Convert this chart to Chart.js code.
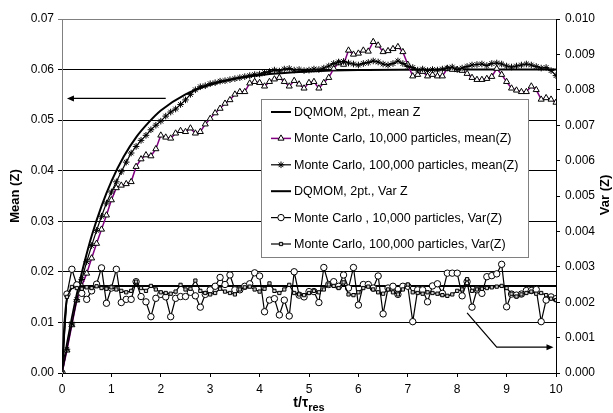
<!DOCTYPE html>
<html lang="en">
<head>
  <meta charset="UTF-8">
  <title>Mean and Var of Z</title>
  <script src="https://cdn.jsdelivr.net/npm/chart.js"></script>
  <style>
    body { margin: 0; padding: 0; background: #fff; }
    #wrap { position: relative; width: 613px; height: 413px; }
  </style>
</head>
<body>
  <div id="wrap"><canvas id="chart" width="613" height="413"></canvas></div>
  <script>
    // sample times of the Monte Carlo runs
    const tMC = [
      0, 0.1, 0.2, 0.3, 0.4, 0.5, 0.6, 0.7, 0.8, 0.9,
      1, 1.1, 1.2, 1.3, 1.4, 1.5, 1.6, 1.7, 1.8, 1.9,
      2, 2.1, 2.2, 2.3, 2.4, 2.5, 2.6, 2.7, 2.8, 2.9,
      3, 3.1, 3.2, 3.3, 3.4, 3.5, 3.6, 3.7, 3.8, 3.9,
      4, 4.1, 4.2, 4.3, 4.4, 4.5, 4.6, 4.7, 4.8, 4.9,
      5, 5.1, 5.2, 5.3, 5.4, 5.5, 5.6, 5.7, 5.8, 5.9,
      6, 6.1, 6.2, 6.3, 6.4, 6.5, 6.6, 6.7, 6.8, 6.9,
      7, 7.1, 7.2, 7.3, 7.4, 7.5, 7.6, 7.7, 7.8, 7.9,
      8, 8.1, 8.2, 8.3, 8.4, 8.5, 8.6, 8.7, 8.8, 8.9,
      9, 9.1, 9.2, 9.3, 9.4, 9.5, 9.6, 9.7, 9.8, 9.9,
      10
    ];

    const mc10kMean = [
      0, 0.0045, 0.0095, 0.0144, 0.0172, 0.0197, 0.0227, 0.0256, 0.0284, 0.0312,
      0.0342, 0.0366, 0.0371, 0.0374, 0.0378, 0.0408, 0.0423, 0.0431, 0.0429, 0.0443,
      0.0470, 0.0466, 0.0464, 0.0474, 0.0479, 0.0477, 0.0484, 0.0474, 0.0477, 0.0492,
      0.0503, 0.0514, 0.0523, 0.0533, 0.0540, 0.0551, 0.0556, 0.0556, 0.0573, 0.0576,
      0.0574, 0.0567, 0.0576, 0.0581, 0.0584, 0.0576, 0.0567, 0.0578, 0.0571, 0.0563,
      0.0574, 0.0576, 0.0563, 0.0574, 0.0584, 0.0602, 0.0613, 0.0610, 0.0638, 0.0630,
      0.0632, 0.0638, 0.0636, 0.0655, 0.0648, 0.0635, 0.0637, 0.0641, 0.0645, 0.0635,
      0.0610, 0.0587, 0.0590, 0.0596, 0.0587, 0.0590, 0.0587, 0.0587, 0.0602, 0.0600,
      0.0600, 0.0598, 0.0592, 0.0584, 0.0580, 0.0580, 0.0582, 0.0586, 0.0602, 0.0590,
      0.0576, 0.0563, 0.0559, 0.0556, 0.0556, 0.0567, 0.0560, 0.0541, 0.0544, 0.0541,
      0.0535
    ];

    const mc100kMean = [
      0, 0.0047, 0.0097, 0.0145, 0.0185, 0.0220, 0.0252, 0.0282, 0.0310, 0.0336,
      0.0358, 0.0378, 0.0398, 0.0417, 0.0435, 0.0448, 0.0460, 0.0470, 0.0481, 0.0490,
      0.0498, 0.0508, 0.0516, 0.0522, 0.0531, 0.0540, 0.0551, 0.0560, 0.0566, 0.0568,
      0.0572, 0.0574, 0.0577, 0.0578, 0.0580, 0.0582, 0.0584, 0.0586, 0.0588, 0.0590,
      0.0591, 0.0594, 0.0596, 0.0599, 0.0597, 0.0601, 0.0602, 0.0599, 0.0600, 0.0598,
      0.0599, 0.0601, 0.0600, 0.0603, 0.0607, 0.0612, 0.0615, 0.0616, 0.0613, 0.0611,
      0.0609, 0.0612, 0.0614, 0.0617, 0.0615, 0.0611, 0.0609, 0.0612, 0.0617, 0.0612,
      0.0606, 0.0604, 0.0599, 0.0601, 0.0598, 0.0600, 0.0599, 0.0601, 0.0603, 0.0605,
      0.0600, 0.0603, 0.0606, 0.0609, 0.0610, 0.0611, 0.0608, 0.0612, 0.0613, 0.0611,
      0.0607, 0.0605, 0.0607, 0.0609, 0.0611, 0.0609, 0.0606, 0.0603, 0.0604, 0.0598,
      0.0588
    ];

    const mc10kVar = [
      0, 0.00223, 0.00293, 0.00249, 0.00225, 0.00208, 0.00232, 0.00251, 0.00297, 0.00197,
      0.00240, 0.00293, 0.00199, 0.00208, 0.00208, 0.00258, 0.00216, 0.00201, 0.00159, 0.00211,
      0.00222, 0.00215, 0.00159, 0.00211, 0.00216, 0.00216, 0.00228, 0.00218, 0.00186, 0.00222,
      0.00235, 0.00245, 0.00270, 0.00250, 0.00277, 0.00235, 0.00235, 0.00245, 0.00252, 0.00283,
      0.00274, 0.00173, 0.00206, 0.00210, 0.00164, 0.00206, 0.00161, 0.00286, 0.00220, 0.00215,
      0.00230, 0.00230, 0.00199, 0.00298, 0.00250, 0.00258, 0.00245, 0.00277, 0.00240, 0.00298,
      0.00192, 0.00250, 0.00250, 0.00240, 0.00274, 0.00167, 0.00240, 0.00245, 0.00222, 0.00245,
      0.00245, 0.00145, 0.00235, 0.00235, 0.00201, 0.00246, 0.00252, 0.00225, 0.00282, 0.00282,
      0.00282, 0.00218, 0.00258, 0.00186, 0.00235, 0.00225, 0.00272, 0.00275, 0.00280, 0.00307,
      0.00187, 0.00223, 0.00220, 0.00223, 0.00233, 0.00233, 0.00236, 0.00145, 0.00206, 0.00215,
      0.00210
    ];

    const mc100kVar = [
      0, 0.00215, 0.00243, 0.00240, 0.00238, 0.00242, 0.00240, 0.00245, 0.00240, 0.00238,
      0.00242, 0.00236, 0.00232, 0.00228, 0.00232, 0.00258, 0.00240, 0.00232, 0.00246, 0.00236,
      0.00228, 0.00226, 0.00224, 0.00230, 0.00249, 0.00236, 0.00238, 0.00261, 0.00232, 0.00226,
      0.00222, 0.00226, 0.00238, 0.00230, 0.00226, 0.00222, 0.00236, 0.00242, 0.00244, 0.00236,
      0.00230, 0.00238, 0.00253, 0.00232, 0.00226, 0.00236, 0.00249, 0.00226, 0.00222, 0.00220,
      0.00226, 0.00232, 0.00228, 0.00236, 0.00250, 0.00246, 0.00240, 0.00256, 0.00222, 0.00220,
      0.00228, 0.00240, 0.00244, 0.00236, 0.00228, 0.00224, 0.00236, 0.00228, 0.00222, 0.00236,
      0.00250, 0.00228, 0.00226, 0.00224, 0.00228, 0.00226, 0.00224, 0.00220, 0.00218, 0.00222,
      0.00232, 0.00236, 0.00265, 0.00232, 0.00236, 0.00238, 0.00240, 0.00242, 0.00244, 0.00246,
      0.00240, 0.00224, 0.00216, 0.00222, 0.00226, 0.00230, 0.00224, 0.00226, 0.00220, 0.00210,
      0.00206
    ];

    // DQMOM curves (smooth)
    const dqMeanTime = [0, 0.1, 0.2, 0.3, 0.4, 0.5, 0.6, 0.8, 1, 1.25, 1.5, 1.75, 2, 2.5, 3, 3.5, 4, 5, 6, 8, 10];
    const dqMean = [0, 0.0057, 0.0109, 0.0156, 0.0198, 0.0236, 0.0271, 0.0330, 0.0379, 0.0428, 0.0466, 0.0495, 0.0519, 0.0551, 0.0570, 0.0582, 0.0589, 0.0596, 0.0599, 0.0600, 0.0600];
    const dqVarTime = [0, 0.05, 0.1, 0.15, 0.2, 0.3, 0.5, 1, 10];
    const dqVar = [0, 0.0014, 0.0021, 0.0023, 0.0024, 0.00245, 0.00246, 0.00246, 0.00246];

    const seriesNames = [
      'DQMOM, 2pt., mean Z',
      'Monte Carlo, 10,000 particles, mean(Z)',
      'Monte Carlo, 100,000 particles, mean(Z)',
      'DQMOM, 2pt., Var Z',
      'Monte Carlo , 10,000 particles, Var(Z)',
      'Monte Carlo, 100,000 particles, Var(Z)'
    ];

    const xTicks = [0, 1, 2, 3, 4, 5, 6, 7, 8, 9, 10];
    const meanTicks = [0, 0.01, 0.02, 0.03, 0.04, 0.05, 0.06, 0.07];
    const varTicks = [0, 0.001, 0.002, 0.003, 0.004, 0.005, 0.006, 0.007, 0.008, 0.009, 0.010];

    const FONT = "'Liberation Sans', Arial, sans-serif";

    function pts(xs, ys) { return xs.map((x, i) => ({ x: x, y: ys[i] })); }

    const datasets = [
      { label: seriesNames[0], data: pts(dqMeanTime, dqMean), yAxisID: 'y',
        borderColor: '#000', borderWidth: 2, pointRadius: 0, cubicInterpolationMode: 'monotone' },
      { label: seriesNames[1], data: pts(tMC, mc10kMean), yAxisID: 'y',
        borderColor: '#800080', borderWidth: 1.5, pointStyle: 'triangle', pointRadius: 3.5,
        pointBackgroundColor: '#fff', pointBorderColor: '#000', pointBorderWidth: 1 },
      { label: seriesNames[2], data: pts(tMC, mc100kMean), yAxisID: 'y',
        borderColor: '#000', borderWidth: 1.2, pointStyle: 'star', pointRadius: 3.3,
        pointBorderColor: '#000', pointBorderWidth: 1 },
      { label: seriesNames[3], data: pts(dqVarTime, dqVar), yAxisID: 'y2',
        borderColor: '#000', borderWidth: 2, pointRadius: 0, cubicInterpolationMode: 'monotone' },
      { label: seriesNames[4], data: pts(tMC, mc10kVar), yAxisID: 'y2',
        borderColor: '#000', borderWidth: 1.2, pointStyle: 'circle', pointRadius: 3.2,
        pointBackgroundColor: '#fff', pointBorderColor: '#000', pointBorderWidth: 1 },
      { label: seriesNames[5], data: pts(tMC, mc100kVar), yAxisID: 'y2',
        borderColor: '#000', borderWidth: 1.2, pointStyle: 'rect', pointRadius: 2.3,
        pointBackgroundColor: '#ccc', pointBorderColor: '#000', pointBorderWidth: 1 }
    ];
    // later series drawn on top, as in the original
    datasets.forEach((d, i) => { d.order = datasets.length - i; d.fill = false; d.tension = d.tension || 0; });

    function drawMarker(ctx, ds, x, y) {
      if (!ds.pointRadius) return;
      ctx.save();
      ctx.fillStyle = ds.pointBackgroundColor || '#000';
      ctx.strokeStyle = ds.pointBorderColor || '#000';
      ctx.lineWidth = ds.pointBorderWidth || 1;
      Chart.helpers.drawPoint(ctx, { pointStyle: ds.pointStyle, radius: ds.pointRadius, rotation: 0, borderWidth: ds.pointBorderWidth }, x, y);
      ctx.restore();
    }

    function arrowHead(ctx, x, y, dir) {
      ctx.beginPath();
      ctx.moveTo(x, y);
      ctx.lineTo(x - dir * 7, y - 3);
      ctx.lineTo(x - dir * 7, y + 3);
      ctx.closePath();
      ctx.fill();
    }

    const decorations = {
      id: 'decorations',
      beforeDatasetsDraw(chart) {
        const { ctx, chartArea: a } = chart;
        ctx.save();
        ctx.strokeStyle = '#808080';
        ctx.lineWidth = 1;
        ctx.beginPath();
        ctx.moveTo(a.left, a.top + 0.5);
        ctx.lineTo(a.right, a.top + 0.5);
        ctx.stroke();
        ctx.restore();
      },
      afterDraw(chart) {
        const { ctx, chartArea: a, scales } = chart;
        const sx = scales.x, sy = scales.y, sv = scales.y2;
        ctx.save();

        // arrows
        ctx.strokeStyle = '#000';
        ctx.fillStyle = '#000';
        ctx.lineWidth = 1.2;
        let y1 = sy.getPixelForValue(0.0543);
        let xa = sx.getPixelForValue(2.1), xb = sx.getPixelForValue(0.1);
        ctx.beginPath(); ctx.moveTo(xa, y1); ctx.lineTo(xb + 6, y1); ctx.stroke();
        arrowHead(ctx, xb, y1, -1);

        const p0x = sx.getPixelForValue(8.2), p0y = sv.getPixelForValue(0.0017);
        const p1x = sx.getPixelForValue(8.8), p1y = sv.getPixelForValue(0.00073);
        const p2x = sx.getPixelForValue(9.95);
        ctx.beginPath(); ctx.moveTo(p0x, p0y); ctx.lineTo(p1x, p1y); ctx.lineTo(p2x - 6, p1y); ctx.stroke();
        arrowHead(ctx, p2x, p1y, 1);

        // legend box
        const bx = 261, by = 99, bw = 267, bh = 158;
        ctx.fillStyle = '#fff';
        ctx.fillRect(bx, by, bw, bh);
        ctx.strokeStyle = '#808080';
        ctx.lineWidth = 1;
        ctx.strokeRect(bx + 0.5, by + 0.5, bw, bh);
        ctx.font = '12.5px ' + FONT;
        ctx.textBaseline = 'middle';
        ctx.textAlign = 'left';
        chart.data.datasets.forEach((ds, i) => {
          const yy = by + 13 + i * 26.4;
          ctx.strokeStyle = ds.borderColor;
          ctx.lineWidth = ds.borderWidth;
          ctx.beginPath(); ctx.moveTo(bx + 10, yy); ctx.lineTo(bx + 30, yy); ctx.stroke();
          drawMarker(ctx, ds, bx + 20, yy);
          ctx.fillStyle = '#000';
          ctx.fillText(ds.label, bx + 33, yy + 0.5);
        });

        // axis titles
        ctx.fillStyle = '#000';
        ctx.font = 'bold 13px ' + FONT;
        ctx.textAlign = 'center';
        ctx.textBaseline = 'middle';
        ctx.save();
        ctx.translate(15, 196);
        ctx.rotate(-Math.PI / 2);
        ctx.fillText('Mean (Z)', 0, 0);
        ctx.restore();
        ctx.save();
        ctx.translate(605, 195);
        ctx.rotate(-Math.PI / 2);
        ctx.fillText('Var (Z)', 0, 0);
        ctx.restore();

        // x title with subscript
        const main = 't/\u03c4', sub = 'res';
        ctx.font = 'bold 14px ' + FONT;
        const w1 = ctx.measureText(main).width;
        ctx.font = 'bold 11px ' + FONT;
        const w2 = ctx.measureText(sub).width;
        const cx = (a.left + a.right) / 2 - (w1 + w2) / 2;
        ctx.textAlign = 'left';
        ctx.textBaseline = 'alphabetic';
        ctx.font = 'bold 14px ' + FONT;
        ctx.fillText(main, cx, 407);
        ctx.font = 'bold 11px ' + FONT;
        ctx.fillText(sub, cx + w1, 411);
        ctx.restore();
      }
    };

    new Chart(document.getElementById('chart'), {
      type: 'line',
      data: { datasets: datasets },
      options: {
        responsive: false,
        animation: false,
        layout: { padding: { top: 19, left: 0, right: 0, bottom: 0 } },
        plugins: { legend: { display: false }, tooltip: { enabled: false } },
        scales: {
          x: {
            type: 'linear', min: 0, max: 10,
            afterBuildTicks: s => { s.ticks = xTicks.map(v => ({ value: v })); },
            afterFit: s => { s.height = 40; },
            ticks: { color: '#000', font: { size: 12, family: FONT }, padding: 5, maxRotation: 0 },
            grid: { drawOnChartArea: false, tickLength: 4, color: '#000' },
            border: { color: '#000' }
          },
          y: {
            position: 'left', min: 0, max: 0.07,
            afterBuildTicks: s => { s.ticks = meanTicks.map(v => ({ value: v })); },
            afterFit: s => { s.width = 62; },
            ticks: { color: '#000', font: { size: 12, family: FONT }, padding: 4, callback: v => v.toFixed(2) },
            grid: { tickLength: 4, color: c => (c.tick && c.tick.value >= 0.07 ? '#808080' : '#000') },
            border: { color: '#808080' }
          },
          y2: {
            position: 'right', min: 0, max: 0.010,
            afterBuildTicks: s => { s.ticks = varTicks.map(v => ({ value: v })); },
            afterFit: s => { s.width = 57; },
            ticks: { color: '#000', font: { size: 12, family: FONT }, padding: 5, callback: v => v.toFixed(3) },
            grid: { drawOnChartArea: false, tickLength: 4, color: '#000' },
            border: { color: '#000' }
          }
        }
      },
      plugins: [decorations]
    });
  </script>
</body>
</html>
